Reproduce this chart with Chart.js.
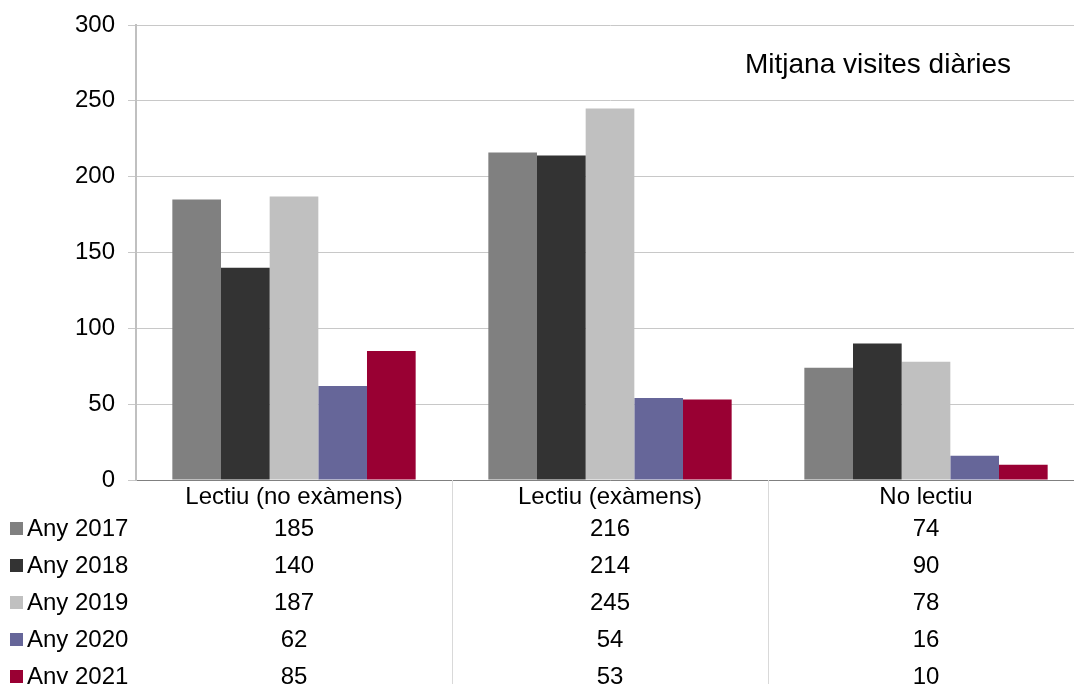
<!DOCTYPE html>
<html>
<head>
<meta charset="utf-8">
<script src="https://cdn.jsdelivr.net/npm/chart.js@4/dist/chart.umd.min.js"></script>
<style>
  html, body { margin: 0; padding: 0; background: #fff; overflow: hidden; }
  #wrap { width: 1090px; height: 684px; }
</style>
</head>
<body>
<div id="wrap"><canvas id="visitsChart"></canvas></div>
<script>
// Data
const categories = ['Lectiu (no exàmens)', 'Lectiu (exàmens)', 'No lectiu'];
const seriesNames = ['Any 2017', 'Any 2018', 'Any 2019', 'Any 2020', 'Any 2021'];
const any2017 = [185, 216, 74];
const any2018 = [140, 214, 90];
const any2019 = [187, 245, 78];
const any2020 = [62, 54, 16];
const any2021 = [85, 53, 10];
const yTicks = [0, 50, 100, 150, 200, 250, 300];
const chartTitle = 'Mitjana visites diàries';

const seriesValues = [any2017, any2018, any2019, any2020, any2021];
const seriesColors = ['#808080', '#333333', '#c0c0c0', '#666699', '#990033'];
const FONT = 'Liberation Sans, Arial, sans-serif';

// draws title, category labels and the data table under the plot
const dataTablePlugin = {
    id: 'dataTable',
    afterDraw(chart) {
        const ctx = chart.ctx;
        const area = chart.chartArea;
        const xs = chart.scales.x;
        const rowH = 37;
        const firstRow = area.bottom + 49;

        ctx.save();
        // vertical separators between categories
        ctx.strokeStyle = '#d9d9d9';
        ctx.lineWidth = 1;
        for (let i = 1; i < categories.length; i++) {
            const x = Math.round((xs.getPixelForValue(i - 1) + xs.getPixelForValue(i)) / 2) + 0.5;
            ctx.beginPath();
            ctx.moveTo(x, area.bottom);
            ctx.lineTo(x, chart.height);
            ctx.stroke();
        }

        ctx.fillStyle = '#000';
        ctx.font = '24px ' + FONT;
        ctx.textBaseline = 'middle';
        ctx.textAlign = 'center';
        categories.forEach((c, i) => {
            ctx.fillText(c, xs.getPixelForValue(i), area.bottom + 17);
        });

        seriesNames.forEach((name, r) => {
            const y = firstRow + r * rowH;
            ctx.fillStyle = seriesColors[r];
            ctx.fillRect(10, y - 7, 13, 13);
            ctx.fillStyle = '#000';
            ctx.textAlign = 'left';
            ctx.fillText(name, 27, y);
            ctx.textAlign = 'center';
            seriesValues[r].forEach((v, i) => {
                ctx.fillText(String(v), xs.getPixelForValue(i), y);
            });
        });

        // title inside plot
        ctx.font = '28px ' + FONT;
        ctx.textAlign = 'left';
        ctx.fillText(chartTitle, 745, 65);
        ctx.restore();
    }
};

const ctx = document.getElementById('visitsChart').getContext('2d');
const visitsChart = new Chart(ctx, {
    type: 'bar',
    data: {
        labels: categories,
        datasets: seriesNames.map((name, i) => ({
            label: name,
            data: seriesValues[i],
            backgroundColor: seriesColors[i],
            borderWidth: 0,
            categoryPercentage: 0.77,
            barPercentage: 1
        }))
    },
    options: {
        responsive: true,
        maintainAspectRatio: false,
        animation: false,
        layout: { padding: { top: 25, bottom: 196, left: 0, right: 6 } },
        plugins: {
            legend: { display: false },
            tooltip: { enabled: false }
        },
        scales: {
            x: {
                ticks: { display: false },
                grid: { display: false },
                border: { color: '#808080', width: 1 }
            },
            y: {
                min: 0,
                max: 300,
                afterBuildTicks: scale => { scale.ticks = yTicks.map(v => ({ value: v })); },
                afterFit: scale => {
                    scale.width = 136;
                    scale.paddingTop = 0;
                    scale.paddingBottom = 0;
                },
                ticks: {
                    color: '#000',
                    font: { family: FONT, size: 24 },
                    padding: 13
                },
                grid: { color: '#c8c8c8', lineWidth: 1, tickLength: 8 },
                border: { color: '#c0c0c0', width: 2 }
            }
        }
    },
    plugins: [dataTablePlugin]
});
</script>
</body>
</html>
